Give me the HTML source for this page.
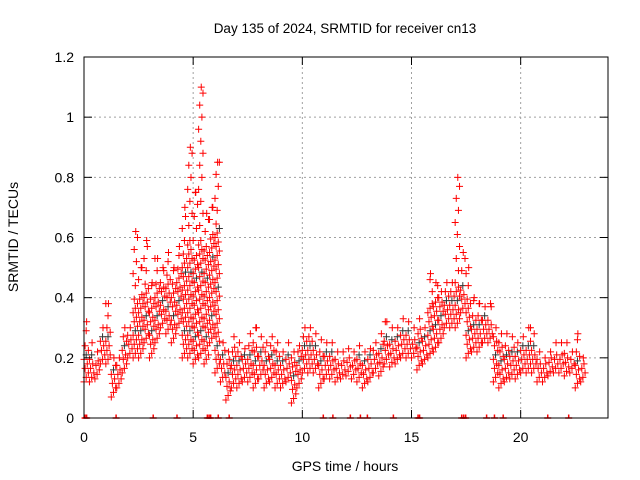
<!DOCTYPE html>
<html><head><meta charset="utf-8"><style>
body{margin:0;background:#fff;}
svg{display:block;font-family:"Liberation Sans",sans-serif;}
</style></head><body>
<svg id="chart" width="640" height="480">
<text x="345" y="33" font-size="13.5" text-anchor="middle">Day 135 of 2024, SRMTID for receiver cn13</text>
<text x="345" y="471" font-size="14" text-anchor="middle">GPS time / hours</text>
<text x="18" y="237" font-size="14" text-anchor="middle" transform="rotate(-90 18 237)">SRMTID / TECUs</text>
<g id="grid"></g><g id="marks"></g><g id="axes"></g>
</svg>
<script>
const binTimes=[0,0.25,0.5,0.75,1,1.25,1.5,1.75,2,2.25,2.5,2.75,3,3.25,3.5,3.75,4,4.25,4.5,4.75,5,5.25,5.5,5.75,6,6.25,6.5,6.75,7,7.25,7.5,7.75,8,8.25,8.5,8.75,9,9.25,9.5,9.75,10,10.25,10.5,10.75,11,11.25,11.5,11.75,12,12.25,12.5,12.75,13,13.25,13.5,13.75,14,14.25,14.5,14.75,15,15.25,15.5,15.75,16,16.25,16.5,16.75,17,17.25,17.5,17.75,18,18.25,18.5,18.75,19,19.25,19.5,19.75,20,20.25,20.5,20.75,21,21.25,21.5,21.75,22,22.25,22.5,22.75];
const lowValues=[0.12,0.12,0.13,0.18,0.18,0.07,0.10,0.15,0.20,0.20,0.20,0.25,0.20,0.25,0.30,0.28,0.25,0.30,0.20,0.20,0.18,0.20,0.18,0.25,0.15,0.12,0.06,0.10,0.10,0.12,0.12,0.10,0.13,0.10,0.12,0.10,0.10,0.12,0.05,0.10,0.15,0.15,0.15,0.10,0.13,0.13,0.12,0.13,0.14,0.13,0.12,0.10,0.12,0.15,0.14,0.18,0.17,0.18,0.20,0.20,0.20,0.16,0.18,0.20,0.22,0.25,0.30,0.30,0.30,0.35,0.20,0.22,0.22,0.25,0.25,0.12,0.10,0.12,0.13,0.13,0.15,0.15,0.15,0.12,0.12,0.14,0.15,0.15,0.14,0.15,0.10,0.12];
const highValues=[0.32,0.25,0.22,0.30,0.38,0.20,0.20,0.30,0.30,0.62,0.50,0.59,0.45,0.53,0.50,0.55,0.50,0.57,0.70,0.90,0.75,1.10,0.68,0.70,0.85,0.25,0.22,0.27,0.25,0.23,0.28,0.30,0.27,0.25,0.27,0.25,0.22,0.25,0.22,0.24,0.30,0.30,0.28,0.26,0.25,0.25,0.22,0.22,0.23,0.22,0.24,0.22,0.23,0.25,0.28,0.32,0.30,0.30,0.33,0.32,0.30,0.33,0.30,0.48,0.45,0.42,0.45,0.45,0.80,0.55,0.50,0.40,0.38,0.37,0.38,0.30,0.28,0.28,0.27,0.25,0.27,0.30,0.28,0.22,0.20,0.22,0.25,0.25,0.25,0.22,0.28,0.20];
const coreHigh=[0.25,0.22,0.20,0.27,0.30,0.18,0.18,0.27,0.28,0.40,0.42,0.45,0.40,0.45,0.45,0.48,0.45,0.50,0.55,0.60,0.55,0.60,0.58,0.62,0.65,0.23,0.20,0.24,0.23,0.21,0.25,0.26,0.24,0.23,0.24,0.22,0.20,0.22,0.20,0.22,0.27,0.27,0.25,0.23,0.23,0.22,0.20,0.20,0.21,0.20,0.22,0.20,0.21,0.23,0.25,0.28,0.27,0.28,0.30,0.29,0.27,0.30,0.28,0.38,0.40,0.40,0.42,0.42,0.45,0.45,0.40,0.35,0.34,0.34,0.33,0.27,0.25,0.25,0.24,0.22,0.24,0.26,0.25,0.20,0.18,0.20,0.22,0.22,0.22,0.20,0.22,0.18];
const zeroTimes=[0.05,0.12,1.47,3.17,4.26,5.65,5.73,5.8,6.15,6.65,10.96,11.4,12.2,12.66,12.98,14.17,15.3,15.37,17.3,17.39,17.48,18.44,18.8,19.2,21.24,22.2];
const yTicks=[0,0.2,0.4,0.6,0.8,1,1.2];
const yTickLabels=["0","0.2","0.4","0.6","0.8","1","1.2"];
const xTicks=[0,5,10,15,20];
const xTickLabels=["0","5","10","15","20"];
const L=84,R=608,T=57,B=418,XMAX=24,YMAX=1.2;
const xs=t=>L+(t/XMAX)*(R-L), ys=v=>B-(v/YMAX)*(B-T);
const NS="http://www.w3.org/2000/svg";
function mk(tag,attrs,parent){const e=document.createElementNS(NS,tag);for(const k in attrs)e.setAttribute(k,attrs[k]);parent.appendChild(e);return e;}
const grid=document.getElementById('grid'),marks=document.getElementById('marks'),axes=document.getElementById('axes');
yTicks.forEach((v,i)=>{
  if(v>0&&v<YMAX){const g=mk('line',{x1:L,x2:R,y1:ys(v),y2:ys(v),stroke:'#a0a0a0','stroke-dasharray':'2,3'},grid);
  
  }
  const t=mk('text',{x:L-10,y:ys(v)+5,'font-size':14,'text-anchor':'end'},axes);t.textContent=yTickLabels[i];
  
  
  mk('line',{x1:L,x2:L+8,y1:ys(v),y2:ys(v),stroke:'#000'},axes);
  mk('line',{x1:R,x2:R-8,y1:ys(v),y2:ys(v),stroke:'#000'},axes);
});
xTicks.forEach((v,i)=>{
  if(v>0){const g=mk('line',{x1:xs(v),x2:xs(v),y1:T,y2:B,stroke:'#a0a0a0','stroke-dasharray':'2,3'},grid);
  
  }
  const t=mk('text',{x:xs(v),y:B+24,'font-size':14,'text-anchor':'middle'},axes);t.textContent=xTickLabels[i];
  
  
  mk('line',{x1:xs(v),x2:xs(v),y1:B,y2:B-8,stroke:'#000'},axes);
  mk('line',{x1:xs(v),x2:xs(v),y1:T,y2:T+8,stroke:'#000'},axes);
});
const fr=mk('rect',{x:L,y:T,width:R-L,height:B-T,fill:'none',stroke:'#000'},axes);


function cross(x,y,c){
  const p=mk('path',{d:`M${x-3.5},${y}h7M${x},${y-3.5}v7`,stroke:c,'stroke-width':1,fill:'none'},marks);
  
  
}
binTimes.forEach((t,i)=>{
  const lo=lowValues[i],hi=highValues[i],ch=Math.min(coreHigh[i],hi);let k=0;
  for(let v=lo;v<=ch+1e-9;v+=0.015){
    const tt=t+((k*7)%5)*0.05;
    cross(xs(tt),ys(v),(k%13===6)?'#333':'#ff0000');k++;
  }
  for(let v=ch+0.04;v<=hi+1e-9;v+=0.04){
    const tt=t+((k*3)%5)*0.05;
    cross(xs(tt),ys(v),'#ff0000');k++;
  }
  cross(xs(t+0.12),ys(hi),'#ff0000');
});
zeroTimes.forEach(t=>{
  const p=mk('path',{d:`M${xs(t)},${ys(0)-3.5}v3.5M${xs(t)-3.5},${ys(0)}h7`,stroke:'#ff0000','stroke-width':1.5,fill:'none'},marks);
  
  
});
</script>
</body></html>
